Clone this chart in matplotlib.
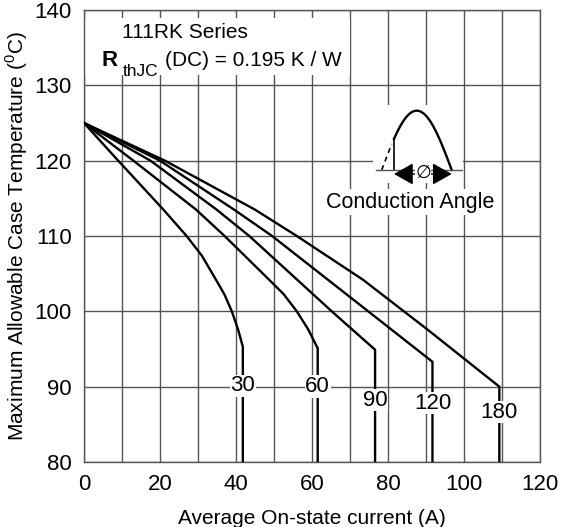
import numpy as np
import matplotlib.pyplot as plt
from matplotlib.patches import Rectangle
from matplotlib.ticker import MultipleLocator

plt.rcParams['font.family'] = ['Liberation Sans', 'DejaVu Sans']
plt.rcParams['mathtext.fontset'] = 'custom'
plt.rcParams['mathtext.rm'] = 'Liberation Sans'

# current derating curves, one per conduction angle
angles = [30, 60, 90, 120, 180]

i_30 = [0, 9.0, 20.9, 27.0, 31.0, 34.5, 37.0, 38.9, 40.6, 41.8]
tc_30 = [125, 120, 113.5, 110, 107.4, 104.4, 102.2, 100, 97.5, 95.3]

i_60 = [0, 13.0, 29.5, 37.0, 47.5, 52.5, 56.0, 59.0, 61.5]
tc_60 = [125, 120, 113.5, 110, 104.8, 102.3, 100, 97.6, 95.1]

i_90 = [0, 17.5, 34.9, 43.5, 65.2, 76.6]
tc_90 = [125, 120, 113.5, 110, 100, 94.9]

i_120 = [0, 20.0, 39.5, 49.5, 74.8, 91.7]
tc_120 = [125, 120, 113.5, 110, 100, 93.3]

i_180 = [0, 21.3, 45.0, 56.0, 73.4, 90.6, 109.3]
tc_180 = [125, 120, 113.5, 110, 104.2, 97.5, 90.0]

currents = [i_30, i_60, i_90, i_120, i_180]
temps = [tc_30, tc_60, tc_90, tc_120, tc_180]

x_ticks = [0, 20, 40, 60, 80, 100, 120]
y_ticks = [80, 90, 100, 110, 120, 130, 140]

# vertical position of each angle label
label_y = [90.1, 90.0, 88.2, 87.8, 86.6]

W, H = 563, 527
fig = plt.figure(figsize=(W / 100, H / 100), dpi=100)
ax = fig.add_axes([84 / W, 1 - 462 / H, 456 / W, 452 / H])

grid_c = '#555555'
ax.set_xlim(x_ticks[0], x_ticks[-1])
ax.set_ylim(y_ticks[0], y_ticks[-1])
ax.set_xticks(x_ticks)
ax.set_yticks(y_ticks)
ax.xaxis.set_minor_locator(MultipleLocator(10))
ax.set_axisbelow(True)
ax.grid(which='both', color=grid_c, lw=1.0)
ax.tick_params(which='both', length=0, labelsize=16, pad=9)
for s in ax.spines.values():
    s.set_color(grid_c)
    s.set_linewidth(1.0)

ax.set_xlabel('Average On-state current (A)', fontsize=15, labelpad=10)
ax.set_ylabel('Maximum Allowable Case Temperature ($^{0}$C)', fontsize=15, labelpad=3)

floor = y_ticks[0]
for ang, cur, tc, ly in zip(angles, currents, temps, label_y):
    ax.plot(cur + [cur[-1]], tc + [floor], color='black', lw=1.7, zorder=3,
            solid_joinstyle='round')
    ax.text(cur[-1], ly, str(ang), ha='center', va='center', fontsize=16, zorder=4,
            bbox=dict(facecolor='white', edgecolor='none', pad=0.5))

# title block on a white patch
ax.add_patch(Rectangle((0, 0.856), 0.583, 0.126, transform=ax.transAxes,
                       facecolor='white', edgecolor='none', zorder=1))
ax.text(0.083, 0.938, '111RK Series', transform=ax.transAxes, fontsize=15,
        va='baseline', zorder=4)
ax.text(0.039, 0.875, 'R', transform=ax.transAxes, fontsize=16, fontweight='bold',
        va='baseline', zorder=4)
ax.text(0.086, 0.855, 'thJC', transform=ax.transAxes, fontsize=12.5,
        va='baseline', zorder=4)
ax.text(0.178, 0.875, '(DC) = 0.195 K / W', transform=ax.transAxes, fontsize=15,
        va='baseline', zorder=4)

ax.text(0.715, 0.575, 'Conduction Angle', transform=ax.transAxes, fontsize=15.5,
        ha='center', va='center', zorder=4,
        bbox=dict(facecolor='white', edgecolor='none', pad=1.5))

# conduction angle sketch
ins = fig.add_axes([373 / W, 1 - 183 / H, 90 / W, 78 / H])
ins.set_facecolor('white')
ins.set_xticks([])
ins.set_yticks([])
for s in ins.spines.values():
    s.set_visible(False)
ins.set_xlim(-22.4, 209)
ins.set_ylim(-0.219, 1.096)

fire = 31.6
ph = np.linspace(fire, 180, 120)
ins.plot(ph, np.sin(np.radians(ph)), color='black', lw=1.7)
ins.plot([fire, fire], [0, np.sin(np.radians(fire))], color='black', lw=1.2)
ph0 = np.linspace(0, 26, 10)
ins.plot(ph0, np.sin(np.radians(ph0)), color='black', lw=1.2, ls=(0, (3, 2.5)))
ins.plot([-14.7, 205.7], [0, 0], color=grid_c, lw=1.0)
ins.annotate('', xy=(180, -0.067), xytext=(fire, -0.067),
             arrowprops=dict(arrowstyle='<|-|>,head_length=0.8,head_width=0.45',
                             mutation_scale=15, color='black', lw=1.0,
                             shrinkA=0, shrinkB=0))
ins.text(106, -0.05, '\u2205', ha='center', va='center', fontsize=13,
         bbox=dict(facecolor='white', edgecolor='none', pad=0.3))

fig.savefig('out.png', dpi=100)
